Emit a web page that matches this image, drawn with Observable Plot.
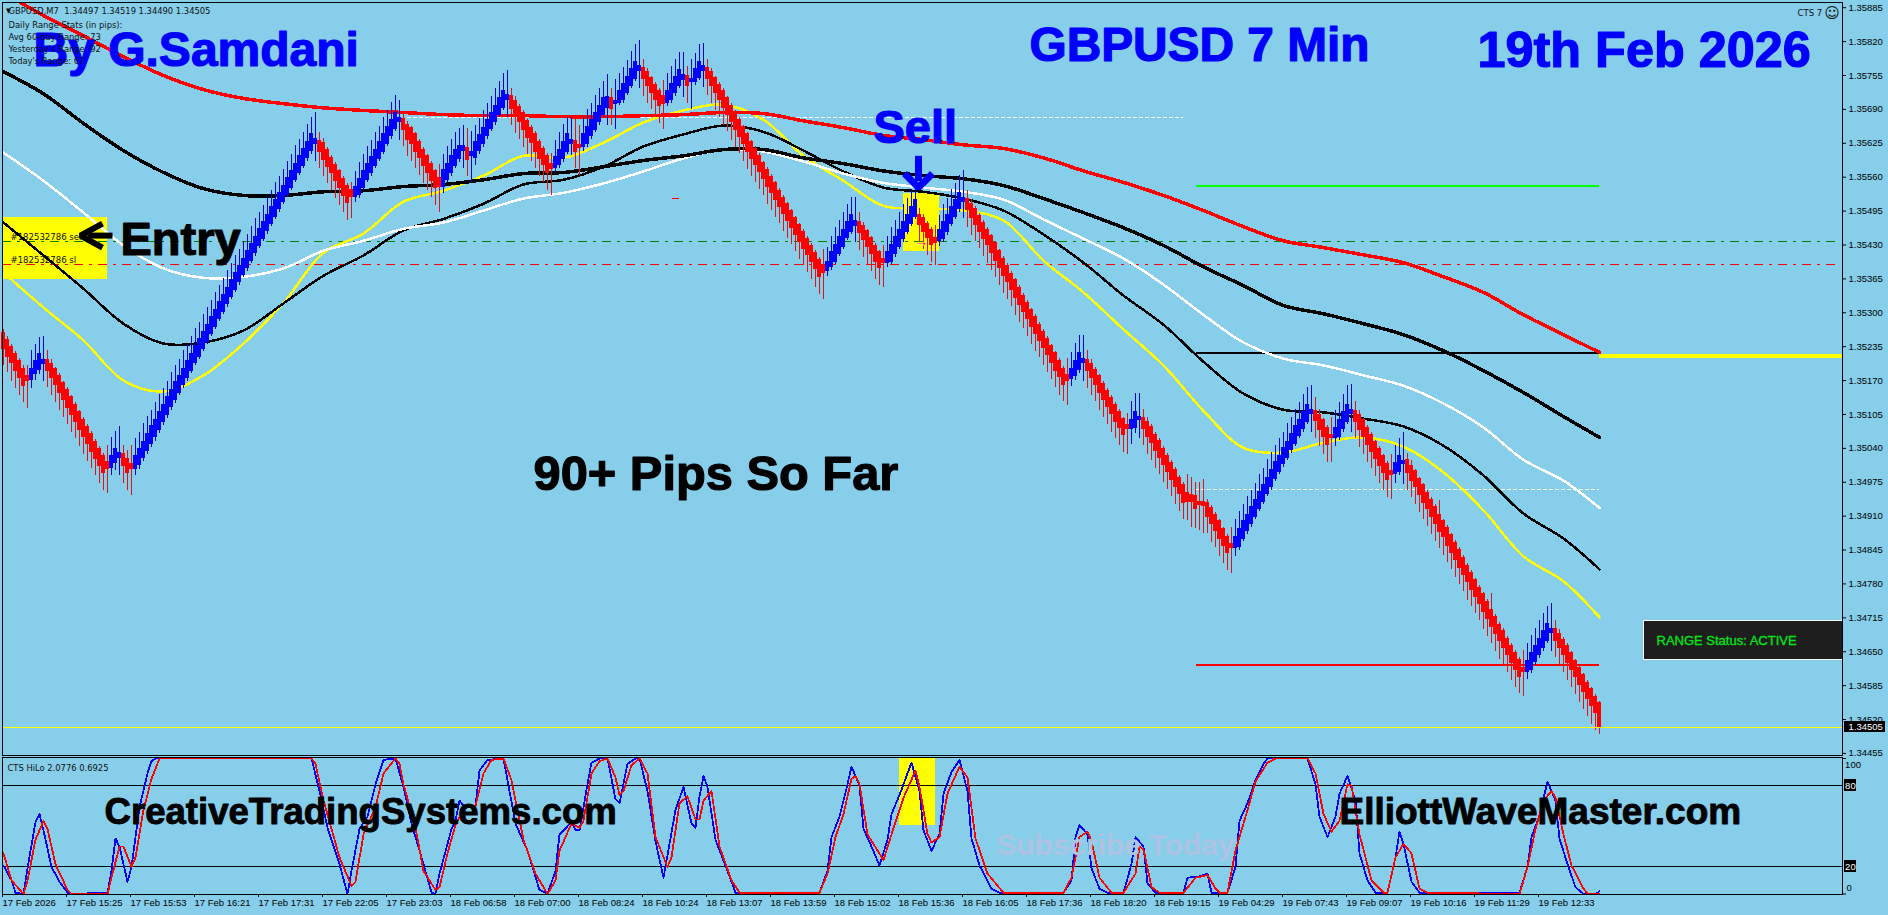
<!DOCTYPE html>
<html><head><meta charset="utf-8">
<script src="https://cdn.jsdelivr.net/npm/d3@7"></script>
<script src="https://cdn.jsdelivr.net/npm/@observablehq/plot@0.6"></script>
<style>
html,body{margin:0;padding:0;background:#87CEEB;width:1888px;height:915px;overflow:hidden}
svg{display:block}
</style></head><body><div id="chart"></div>
<script>
// Prices are in points above 1.30000 (5th decimal units)
const opens=[5259,5246,5232,5219,5206,5191,5177,5173,5184,5192,
5204,5208,5200,5190,5177,5163,5150,5136,5121,5107,
5093,5079,5066,5051,5037,5024,5011,5005,5014,5024,
5028,5018,5009,5003,5010,5023,5037,5051,5064,5077,
5092,5106,5121,5134,5149,5163,5177,5191,5205,5218,
5232,5246,5261,5275,5290,5304,5318,5332,5346,5360,
5374,5388,5402,5416,5430,5444,5458,5472,5486,5500,
5514,5528,5542,5556,5570,5584,5598,5612,5625,5628,
5624,5610,5595,5582,5569,5555,5541,5534,5524,5528,
5542,5556,5569,5583,5597,5611,5626,5640,5654,5667,
5670,5659,5652,5640,5626,5611,5598,5584,5569,5556,
5544,5557,5569,5584,5597,5612,5615,5603,5598,5612,
5625,5640,5654,5667,5681,5695,5709,5713,5705,5693,
5681,5666,5653,5641,5626,5613,5599,5584,5580,5585,
5597,5611,5626,5628,5620,5619,5625,5640,5652,5667,
5681,5694,5710,5702,5705,5710,5724,5737,5751,5765,
5768,5759,5748,5735,5724,5713,5705,5710,5723,5737,
5748,5753,5744,5745,5753,5765,5768,5759,5748,5735,
5724,5709,5695,5681,5668,5654,5640,5625,5612,5599,
5585,5572,5559,5546,5532,5519,5506,5493,5479,5466,
5453,5440,5426,5413,5400,5388,5382,5390,5400,5414,
5429,5445,5457,5469,5472,5464,5454,5441,5427,5414,
5401,5398,5400,5414,5429,5443,5457,5472,5486,5486,
5480,5469,5457,5441,5440,5443,5457,5472,5486,5500,
5514,5516,5507,5497,5484,5470,5457,5445,5431,5416,
5402,5388,5373,5360,5346,5331,5317,5303,5290,5275,
5261,5248,5234,5220,5206,5191,5178,5174,5180,5192,
5205,5208,5200,5189,5176,5162,5149,5135,5122,5108,
5094,5082,5079,5080,5096,5096,5089,5079,5064,5052,
5037,5024,5010,4997,4982,4968,4952,4949,4946,4936,
4936,4933,4924,4911,4898,4883,4869,4855,4851,4853,
4869,4883,4896,4911,4925,4940,4954,4968,4983,4997,
5011,5024,5038,5051,5066,5079,5093,5108,5110,5102,
5092,5078,5064,5062,5064,5079,5093,5108,5110,5102,
5092,5078,5064,5050,5037,5023,5009,4995,4993,4997,
5011,5015,5005,4994,4979,4967,4953,4940,4926,4911,
4898,4886,4871,4857,4843,4828,4813,4799,4785,4771,
4758,4744,4729,4715,4700,4688,4673,4660,4646,4632,
4617,4614,4617,4632,4645,4659,4673,4687,4691,4683,
4671,4659,4645,4630,4617,4603,4588,4576,4562,4549];
const closes=[5232,5218,5205,5190,5176,5162,5171,5191,5206,5219,
5208,5190,5176,5163,5149,5134,5120,5106,5092,5078,
5064,5050,5035,5021,5009,4994,5003,5024,5037,5030,
5009,4994,5003,5024,5037,5051,5066,5080,5093,5108,
5122,5136,5150,5165,5177,5191,5206,5219,5234,5248,
5262,5275,5290,5304,5318,5332,5346,5360,5374,5388,
5402,5416,5430,5444,5458,5472,5486,5500,5514,5528,
5542,5556,5570,5584,5598,5612,5626,5640,5631,5610,
5595,5582,5569,5555,5541,5526,5512,5523,5540,5555,
5569,5584,5597,5611,5625,5640,5654,5668,5682,5672,
5652,5633,5625,5611,5598,5583,5569,5555,5541,5544,
5571,5584,5598,5611,5617,5617,5595,5606,5625,5639,
5652,5667,5681,5695,5710,5724,5715,5693,5678,5667,
5652,5638,5627,5610,5596,5585,5569,5578,5597,5611,
5626,5640,5630,5610,5617,5640,5654,5668,5681,5695,
5710,5711,5693,5705,5724,5737,5751,5765,5779,5772,
5750,5736,5723,5709,5699,5703,5723,5737,5751,5763,
5755,5736,5746,5765,5779,5771,5750,5736,5723,5709,
5694,5681,5667,5652,5639,5625,5610,5596,5585,5571,
5558,5544,5531,5518,5505,5491,5478,5465,5452,5438,
5425,5412,5399,5385,5371,5379,5395,5414,5428,5443,
5457,5472,5486,5475,5454,5441,5429,5414,5400,5387,
5397,5414,5429,5443,5457,5472,5486,5500,5515,5470,
5456,5445,5432,5436,5457,5472,5486,5500,5514,5528,
5518,5499,5484,5471,5457,5443,5431,5416,5402,5388,
5373,5360,5346,5331,5317,5303,5290,5275,5261,5248,
5234,5220,5206,5191,5178,5164,5171,5190,5206,5220,
5210,5190,5176,5164,5149,5135,5121,5107,5093,5080,
5068,5079,5092,5108,5098,5079,5064,5052,5037,5023,
5010,4997,4981,4968,4954,4938,4940,4940,4926,4933,
4932,4911,4896,4883,4868,4855,4841,4850,4868,4883,
4898,4911,4925,4940,4954,4968,4982,4997,5011,5024,
5038,5051,5066,5080,5093,5108,5122,5112,5095,5078,
5064,5049,5061,5078,5093,5107,5122,5112,5092,5077,
5064,5049,5035,5021,5009,4994,4981,4991,5010,5024,
5014,4994,4980,4967,4953,4938,4925,4910,4896,4882,
4871,4855,4842,4828,4813,4799,4785,4771,4757,4744,
4729,4714,4700,4686,4672,4659,4646,4630,4616,4603,
4613,4630,4646,4660,4673,4688,4702,4692,4673,4659,
4645,4630,4616,4603,4588,4574,4561,4547,4534,4505];
const upperWick=[8,8,7,7,7,7,21,36,34,34,
46,19,11,6,6,6,6,6,6,6,
6,6,6,6,6,6,34,37,36,51,
17,17,36,34,33,36,35,32,35,35,
33,33,35,34,34,36,34,35,35,34,
35,35,33,34,34,34,35,34,36,33,
35,34,35,36,34,33,35,34,36,34,
33,35,34,36,35,34,36,35,54,18,
10,6,6,6,6,6,6,16,30,33,
35,35,34,35,33,35,34,36,35,36,
15,7,6,6,6,6,6,6,6,28,
32,34,35,34,36,43,38,41,35,34,
36,35,34,35,33,34,50,18,10,6,
6,6,6,6,6,6,6,21,33,35,
36,35,45,43,40,34,35,34,36,35,
34,46,21,43,35,34,33,36,35,50,
18,10,6,6,6,32,35,36,34,36,
45,19,40,33,36,45,18,10,6,6,
6,6,6,6,6,6,6,6,6,6,
6,6,6,6,6,6,6,6,6,6,
6,6,6,6,6,34,30,33,35,34,
36,35,35,47,20,10,6,6,6,6,
28,33,35,34,36,35,34,36,35,14,
8,6,6,26,30,35,34,36,33,35,
54,18,10,6,6,6,6,6,6,6,
6,6,6,6,6,6,6,6,6,6,
6,6,6,6,6,6,34,34,35,36,
46,19,10,6,6,6,6,6,6,6,
6,25,38,38,47,18,10,6,6,6,
6,6,6,6,6,6,37,35,28,38,
45,8,6,6,6,6,6,33,36,35,
34,36,35,33,35,34,36,35,34,35,
33,36,34,35,34,36,35,48,28,12,
6,6,36,35,34,36,39,50,19,10,
6,6,6,6,6,6,6,33,35,35,
56,15,11,6,6,6,6,6,6,29,
6,6,6,6,6,6,6,6,6,6,
6,6,33,6,6,6,6,6,6,6,
35,35,35,34,36,35,35,50,19,10,
6,6,6,6,6,6,6,6,6,6];
const lowerWick=[33,32,37,35,35,34,55,18,14,10,
36,34,35,35,36,35,35,35,34,34,
36,35,34,34,36,35,50,17,17,36,
36,35,54,16,10,8,8,9,10,8,
8,8,9,8,8,8,8,7,7,7,
7,7,7,7,7,7,8,7,8,7,
7,8,7,8,7,7,8,7,7,8,
7,7,8,7,7,8,7,8,35,34,
34,35,34,36,35,34,35,43,12,8,
8,7,7,7,7,7,7,7,7,36,
33,34,35,35,35,35,35,34,35,51,
15,8,8,8,8,36,34,53,15,8,
8,7,7,7,7,7,35,34,35,34,
35,35,36,34,35,36,35,53,13,9,
8,8,25,34,54,10,8,8,7,7,
7,35,34,50,8,8,7,7,7,35,
36,35,34,35,36,52,10,8,8,7,
35,35,55,10,8,33,34,35,36,35,
35,34,36,35,34,35,36,34,35,35,
34,36,35,35,34,36,35,34,35,36,
35,34,35,36,35,53,12,8,8,7,
8,7,7,35,34,35,36,35,36,35,
48,12,8,8,7,8,7,7,7,35,
34,36,35,46,12,8,8,7,8,7,
34,35,36,35,34,35,36,34,35,35,
36,35,34,36,35,34,35,36,35,34,
36,35,34,35,36,34,49,15,10,8,
36,36,35,34,36,35,35,36,34,35,
36,51,31,12,38,34,35,36,35,34,
36,35,34,36,35,35,38,51,40,51,
56,35,36,34,35,36,35,50,19,8,
8,8,7,8,7,8,7,8,7,8,
8,7,8,7,8,8,8,37,37,35,
35,36,48,19,8,8,8,37,34,35,
35,36,34,35,36,35,35,49,20,10,
40,34,34,35,36,34,35,36,34,35,
36,34,35,36,35,34,36,35,34,35,
36,35,34,35,36,34,35,36,35,34,
48,18,8,8,8,8,8,36,35,34,
35,36,34,35,36,34,35,36,35,14];

const maBars=[0,10,20,30,40,50,60,70,80,90,100,110,120,130,140,150,160,170,180,190,200,210,220,230,240,250,260,270,280,290,300,310,320,330,340,350,360,370,380,390,399];
const maRed=[5914,5870,5831,5791,5755,5728,5711,5701,5693,5688,5684,5680,5678,5678,5676,5676,5678,5680,5684,5682,5668,5655,5640,5632,5622,5615,5597,5572,5550,5525,5496,5465,5438,5425,5411,5396,5369,5339,5296,5258,5224];
const maBlackSlow=[5762,5720,5663,5611,5569,5538,5525,5525,5532,5534,5542,5546,5555,5567,5569,5580,5592,5601,5613,5613,5597,5586,5572,5563,5557,5544,5519,5492,5463,5429,5388,5352,5314,5298,5279,5258,5227,5189,5147,5101,5061];
const maWhite=[5607,5553,5492,5429,5385,5367,5369,5385,5419,5438,5461,5473,5496,5519,5530,5548,5571,5596,5613,5609,5590,5567,5549,5540,5532,5517,5479,5442,5404,5354,5296,5243,5212,5199,5180,5160,5126,5080,5018,4978,4926];
const maBlackFast=[5473,5410,5346,5279,5241,5243,5266,5318,5371,5410,5458,5480,5509,5546,5555,5580,5619,5642,5659,5647,5611,5571,5540,5532,5519,5496,5450,5396,5333,5277,5206,5145,5114,5109,5097,5082,5045,4988,4915,4867,4808];
const maYellow=[5377,5310,5247,5170,5149,5180,5241,5319,5415,5452,5513,5534,5563,5601,5597,5626,5665,5688,5699,5670,5601,5553,5505,5500,5496,5477,5400,5339,5268,5199,5112,5041,5032,5051,5061,5043,4994,4921,4833,4785,4716];

const hiloBlueBars=[0,2,3,5,6,8,9,10,12,14,16,17,26,27,28,29,31,32,34,36,37,38,77,79,81,84,86,87,89,91,93,95,98,100,102,105,107,108,109,112,113,114,115,118,119,121,125,128,131,134,136,138,139,142,143,144,146,147,149,151,153,154,156,158,159,161,163,165,168,170,172,173,174,175,176,178,181,183,184,204,206,207,209,211,212,214,215,217,219,221,222,224,226,227,229,230,232,234,235,237,239,241,242,244,247,249,265,267,268,269,271,272,274,276,280,282,283,285,286,288,295,296,299,301,302,306,308,309,311,313,315,316,326,328,329,331,333,334,336,338,339,341,343,346,348,349,350,352,354,379,381,382,384,386,388,389,391,393,395,398,399];
const hiloBlue=[21,10,1,0,19,53,59,47,20,9,1,0,1,17,41,35,9,20,64,89,98,100,100,76,49,22,0,17,48,57,81,99,100,79,52,22,1,0,15,48,54,69,65,65,91,99,100,52,32,3,0,17,44,53,47,47,81,97,100,100,70,67,96,100,100,76,39,12,62,79,52,49,72,87,79,40,17,1,1,1,17,42,57,81,94,80,48,35,21,40,59,73,89,97,76,47,32,44,74,90,99,76,41,21,4,1,1,10,42,51,44,19,4,1,1,22,42,35,8,1,1,12,13,15,1,1,20,54,67,84,96,100,100,81,57,42,57,74,87,69,30,10,1,1,27,46,37,9,1,1,20,42,58,83,69,41,22,5,0,0,2];
const hiloRedBars=[0,2,5,6,8,10,11,13,16,17,26,27,29,30,32,33,35,37,39,77,78,80,84,87,88,90,93,95,98,99,100,103,105,108,109,111,113,115,117,118,120,122,125,127,130,133,136,138,139,142,144,145,147,149,151,153,154,155,157,159,161,163,166,167,169,171,173,174,175,177,179,182,184,204,206,208,210,212,213,214,216,220,222,225,228,229,231,232,234,236,239,241,243,246,250,265,267,269,271,272,274,277,280,283,284,285,287,289,295,298,301,303,304,306,308,311,313,316,318,326,328,330,332,334,336,337,339,342,345,346,348,350,352,354,356,379,381,383,385,387,388,390,392,395,396,399];
const hiloRed=[30,10,0,10,40,54,48,22,3,0,0,12,35,35,20,27,62,85,100,100,96,69,27,6,9,44,64,89,100,96,81,49,17,3,5,30,51,63,65,65,89,99,100,84,40,15,0,10,32,52,49,54,89,98,100,86,73,76,95,100,89,42,20,27,67,72,55,55,69,76,35,10,1,1,15,42,59,85,87,81,44,25,44,71,91,79,44,38,42,74,94,86,41,15,1,1,12,42,46,39,12,1,1,15,35,33,5,1,1,12,14,4,1,1,32,62,83,97,100,100,89,59,46,54,81,80,44,10,1,1,27,37,30,4,1,0,20,48,69,76,71,44,21,4,0,0];

const yTickLabels=["1.35885","1.35820","1.35755","1.35690","1.35625","1.35560","1.35495","1.35430","1.35365","1.35300","1.35235","1.35170","1.35105","1.35040","1.34975","1.34910","1.34845","1.34780","1.34715","1.34650","1.34585","1.34520","1.34455"];
const xTickLabels=["17 Feb 2026","17 Feb 15:25","17 Feb 15:53","17 Feb 16:21","17 Feb 17:31","17 Feb 22:05","17 Feb 23:03","18 Feb 06:58","18 Feb 07:00","18 Feb 08:24","18 Feb 10:24","18 Feb 13:07","18 Feb 13:59","18 Feb 15:02","18 Feb 15:36","18 Feb 16:05","18 Feb 17:36","18 Feb 18:20","18 Feb 19:15","19 Feb 04:29","19 Feb 07:43","19 Feb 09:07","19 Feb 10:16","19 Feb 11:29","19 Feb 12:33"];
const xTickBars=xTickLabels.map((_,k)=>k*16);

const infoLines=["GBPUSD,M7  1.34497 1.34519 1.34490 1.34505","Daily Range Stats (in pips):","Avg 60-day Range: 73","Yesterday's Range: 92","Today's Range: 67"];
const infoLevels=[5879,5852,5829,5806,5783];
const dashLevels=[[5436,"#008000",458.5],[5392,"#ff0000",458.5]];
const solidLevels=[[5544,"#00ff00"],[5222,"#000000"],[4624,"#ff0000"]];
const entryArrowShaft=[[27.25,5448],[21,5448]];
const entryArrowHead=[[24.75,5471],[19.25,5448],[24.75,5425]];
const sellArrowShaft=[[228.75,5601],[228.75,5552]];
const sellArrowHead=[[225.25,5567],[228.75,5540],[232.25,5567]];

const P=v=>1.3+v/1e5;
const FONT="Liberation Sans";
const SMALL="'DejaVu Sans Condensed','Liberation Sans'";
const CRISP={shapeRendering:"crispEdges"};
const blue="#0000ff", red="#ff0000", wickBlue="#0000dd", wickRed="#dd1414";
const bars=opens.map((o,i)=>{const up=closes[i]>=o,t=Math.max(o,closes[i]),b=Math.min(o,closes[i]);
  return {i,up,t:P(t),b:P(b),hi:P(t+upperWick[i]),lo:P(b-lowerWick[i])};});
const maLine=(vals,stroke,w)=>Plot.line(maBars,{x:d=>d,y:(d,i)=>P(vals[i]),stroke,strokeWidth:w,clip:true,curve:"catmull-rom",...CRISP});
const path=(pts,stroke,w)=>Plot.line(pts,{x:d=>d[0],y:d=>P(d[1]),stroke,strokeWidth:w,strokeLinejoin:"miter",strokeLinecap:"butt"});
const big=(text,bar,pts,fill,size,extra={})=>Plot.text([text],{x:()=>bar,y:()=>P(pts),text:d=>d,fill,stroke:fill,strokeWidth:1.2,fontSize:size,fontWeight:"bold",fontFamily:FONT,textAnchor:"start",lineAnchor:"bottom",...extra});
const small=(text,bar,pts,extra={})=>Plot.text([text],{x:()=>bar,y:()=>P(pts),text:d=>d,fill:"#101010",fontSize:9.3,fontFamily:SMALL,textAnchor:"start",lineAnchor:"middle",...extra});

const main=Plot.plot({
  width:1888,height:756,marginLeft:2,marginRight:46,marginTop:2,marginBottom:1,
  style:{background:"transparent",fontFamily:FONT,color:"#000",overflow:"visible"},
  x:{domain:[-0.25,459.75],axis:null},
  y:{domain:[P(4451),P(5895)],axis:null},
  marks:[
    Plot.rect([0],{x1:()=>0,x2:()=>26,y1:()=>P(5364),y2:()=>P(5482),fill:"#ffff00",...CRISP}),
    Plot.rect([0],{x1:()=>225,x2:()=>234,y1:()=>P(5417),y2:()=>P(5528),fill:"#ffff00",...CRISP}),
    ...dashLevels.map(([v,c,e])=>Plot.ruleY([P(v)],{x1:-0.25,x2:e,stroke:c,strokeWidth:1,strokeDasharray:"9,6,3,6",...CRISP})),
    Plot.ruleY([P(5674)],{x1:101,x2:295,stroke:"#fff",strokeDasharray:"4,2",...CRISP}),
    Plot.ruleY([P(4961)],{x1:298,x2:399,stroke:"#fff",strokeDasharray:"4,2",...CRISP}),
    ...solidLevels.map(([v,c])=>Plot.ruleY([P(v)],{x1:298.25,x2:399,stroke:c,strokeWidth:2,...CRISP})),
    Plot.ruleY([P(5519)],{x1:167.25,x2:169,stroke:red,strokeWidth:1,...CRISP}),
    maLine(maYellow,"#ffff00",2.5),
    maLine(maBlackFast,"#000",2.5),
    maLine(maWhite,"#fff",2.5),
    maLine(maBlackSlow,"#000",3.5),
    maLine(maRed,red,3.5),
    Plot.ruleY([P(5218)],{x1:399,x2:459.75,stroke:"#ffff00",strokeWidth:4,...CRISP}),
    Plot.ruleX(bars,{x:"i",y1:"lo",y2:"hi",stroke:d=>d.up?wickBlue:wickRed,strokeWidth:1,...CRISP}),
    Plot.rect(bars,{x1:d=>d.i-0.5,x2:d=>d.i+0.5,y1:"b",y2:"t",fill:d=>d.up?blue:red,insetTop:-1.5,insetBottom:-1.5,...CRISP}),
    Plot.ruleY([P(4505)],{x1:-0.25,x2:459.75,stroke:"#ffff00",strokeWidth:1,...CRISP}),
    Plot.text(["→"],{x:()=>229.5,y:()=>P(5436),text:d=>d,fill:red,stroke:"#fff",strokeWidth:0.5,fontSize:14,fontWeight:"bold"}),
    big("By G.Samdani",7.5,5774,blue,48),
    big("GBPUSD 7 Min",256.5,5783,blue,47.8),
    big("19th Feb 2026",368.5,5772,blue,50.4),
    big("Sell",217.5,5626,blue,47),
    big("Entry",29.25,5411,"#000",47),
    big("90+ Pips So Far",132.5,4961,"#000",48.8),
    path(entryArrowShaft,"#000",6),
    path(entryArrowHead,"#000",6),
    path(sellArrowShaft,blue,7),
    path(sellArrowHead,blue,7),
    ...infoLines.map((t,k)=>small(t,1.25,infoLevels[k])),
    small("▼",0.6,5879,{fontSize:7}),
    small("#182532786 sell",1.75,5446,{fontSize:9.5}),
    small("#182532786 sl",1.75,5402,{fontSize:9.5}),
    small("CTS 7",448.5,5875,{fontSize:9.5}),
    small("☺",455.2,5875,{fontSize:15,fontFamily:"DejaVu Sans"}),
    Plot.rect([0],{x1:()=>410,x2:()=>459.75,y1:()=>P(4635),y2:()=>P(4708),fill:"#1e1e1e",stroke:"#fff",strokeWidth:1,...CRISP}),
    small("RANGE Status: ACTIVE",413.25,4670,{fill:"#00e614",stroke:"#00e614",strokeWidth:0.3,fontSize:13,fontFamily:FONT}),
    Plot.frame({stroke:"#000",...CRISP}),
    Plot.axisY(yTickLabels.map(Number),{anchor:"right",tickSize:3,tickPadding:3,tickFormat:d=>d.toFixed(5),fontSize:9.5,fontFamily:FONT,label:null,stroke:"#000"}),
    Plot.rect([0],{x1:()=>460.25,x2:()=>470.5,y1:()=>P(4495),y2:()=>P(4516),fill:"#000",...CRISP}),
    small("1.34505",461.25,4505,{fill:"#fff",fontSize:9.5,fontFamily:FONT}),
  ]
});
const sub=Plot.plot({
  width:1888,height:159,marginLeft:2,marginRight:46,marginTop:1,marginBottom:21,
  style:{background:"transparent",fontFamily:FONT,color:"#000",overflow:"visible"},
  x:{domain:[-0.25,459.75],axis:null},
  y:{domain:[-0.37,100.74],axis:null},
  marks:[
    Plot.rect([0],{x1:()=>224,x2:()=>233,y1:()=>50.6,y2:()=>100,fill:"#ffff00",...CRISP}),
    Plot.ruleY([80,20],{x1:-0.25,x2:459.75,stroke:"#000",strokeWidth:1,...CRISP}),
    Plot.line(hiloBlueBars,{x:d=>d,y:(d,i)=>hiloBlue[i],stroke:blue,strokeWidth:1.8,...CRISP}),
    Plot.line(hiloRedBars,{x:d=>d,y:(d,i)=>hiloRed[i],stroke:red,strokeWidth:1.8,...CRISP}),
    Plot.text(["CreativeTradingSystems.com"],{x:()=>25.25,y:()=>52,text:d=>d,fill:"#000",stroke:"#000",strokeWidth:0.9,fontSize:36.6,fontWeight:"bold",fontFamily:FONT,textAnchor:"start",lineAnchor:"bottom"}),
    Plot.text(["ElliottWaveMaster.com"],{x:()=>334,y:()=>52,text:d=>d,fill:"#000",stroke:"#000",strokeWidth:0.9,fontSize:37,fontWeight:"bold",fontFamily:FONT,textAnchor:"start",lineAnchor:"bottom"}),
    Plot.text(["Subscribe Today"],{x:()=>248.25,y:()=>28.5,text:d=>d,fill:"#aec3e3",fontSize:29.8,fontWeight:"bold",fontFamily:FONT,textAnchor:"start",lineAnchor:"bottom"}),
    Plot.text(["CTS HiLo 2.0776 0.6925"],{x:()=>1,y:()=>93,text:d=>d,fill:"#101010",fontSize:9.3,fontFamily:SMALL,textAnchor:"start",lineAnchor:"middle"}),
    Plot.frame({stroke:"#000",...CRISP}),
    Plot.axisX({anchor:"bottom",ticks:xTickBars,tickSize:3,tickPadding:2,tickFormat:i=>xTickLabels[i/16],textAnchor:"start",dx:-1,fontSize:9.5,fontFamily:FONT,label:null,stroke:"#000"}),
    Plot.axisY({anchor:"right",ticks:[100,0],tickSize:3,tickFormat:()=>"",label:null,stroke:"#000"}),
    Plot.rect([80,20],{x1:()=>460.25,x2:()=>463.25,y1:d=>d-4.4,y2:d=>d+4.4,fill:"#000",...CRISP}),
    Plot.text([80,20],{x:()=>460.4,y:d=>d,text:d=>String(d),fill:"#fff",fontSize:9.5,fontFamily:FONT,textAnchor:"start"}),
    Plot.text([100],{x:()=>460.4,y:d=>d,dy:6,text:d=>String(d),fontSize:9.5,fontFamily:FONT,textAnchor:"start"}),
    Plot.text([0],{x:()=>460.75,y:d=>d,dy:-6,text:d=>String(d),fontSize:9.5,fontFamily:FONT,textAnchor:"start"}),
  ]
});
document.getElementById("chart").append(main,sub);
</script></body></html>
